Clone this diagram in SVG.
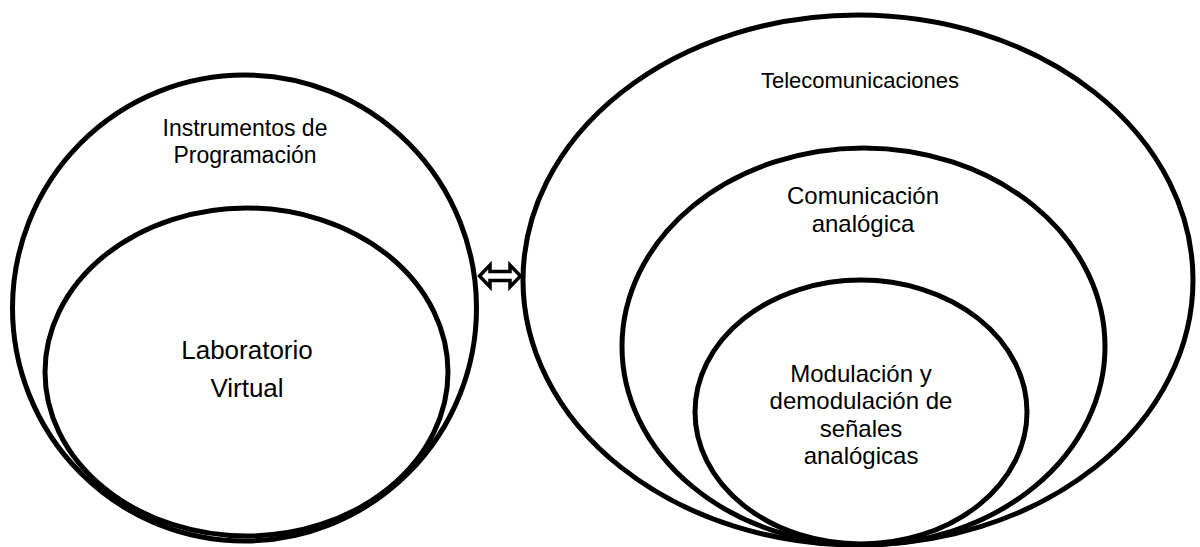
<svg xmlns="http://www.w3.org/2000/svg" width="1200" height="547" viewBox="0 0 1200 547">
<style>
.e{fill:none;stroke:#000;stroke-width:5}
.t{font-family:"Liberation Sans",Arial,sans-serif;fill:#000;text-anchor:middle}
.l{font-size:26px}
.p{font-size:23px}
.r{font-size:24px}
.s{font-size:22px}
.a{fill:#fff;stroke:#000;stroke-width:3.5;stroke-linejoin:miter}
</style>
<rect width="1200" height="547" fill="#fff"/>
<g id="instrumentos">
<ellipse class="e" cx="244.5" cy="308" rx="232" ry="233"/>
<text class="t p" x="245" y="136">Instrumentos de</text>
<text class="t p" x="245" y="163">Programación</text>
</g>
<g id="laboratorio">
<ellipse class="e" cx="246.5" cy="372" rx="201.5" ry="164"/>
<text class="t l" x="247" y="359">Laboratorio</text>
<text class="t l" x="247" y="397">Virtual</text>
</g>
<g id="telecomunicaciones">
<ellipse class="e" cx="858" cy="280" rx="335" ry="265"/>
<text class="t s" x="860" y="88">Telecomunicaciones</text>
</g>
<g id="comunicacion">
<ellipse class="e" cx="863.5" cy="346.5" rx="241.5" ry="198.5"/>
<text class="t r" x="863" y="204">Comunicación</text>
<text class="t r" x="863" y="232">analógica</text>
</g>
<g id="modulacion">
<ellipse class="e" cx="861" cy="412" rx="166" ry="132"/>
<text class="t r" x="861" y="382">Modulación y</text>
<text class="t r" x="861" y="409">demodulación de</text>
<text class="t r" x="861" y="437">señales</text>
<text class="t r" x="861" y="464">analógicas</text>
</g>
<g id="connectors">
<polygon class="a" points="479.5,276 490,265 490,271.5 510,271.5 510,265 520.5,276 510,287 510,280.5 490,280.5 490,287"/>
</g>
</svg>
